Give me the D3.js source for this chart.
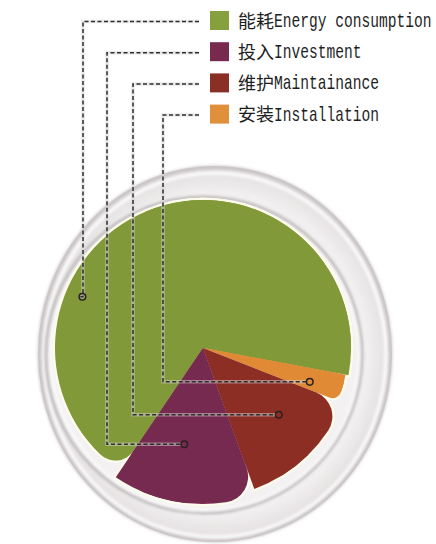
<!DOCTYPE html>
<html>
<head>
<meta charset="utf-8">
<script src="https://cdn.jsdelivr.net/npm/d3@7"></script>
<style>
  html, body { margin: 0; padding: 0; background: #ffffff; }
  svg { display: block; }
</style>
</head>
<body>
<svg id="chart" width="436" height="544"></svg>
<script>
// ---- data ----
const categoriesZh = ["能耗", "投入", "维护", "安装"];
const categoriesEn = ["Energy consumption", "Investment", "Maintainance", "Installation"];
const values = [68.5, 15, 13.5, 3];
const colors = ["#82993a", "#772a4f", "#8c2e24", "#e08a36"];
const swatchColors = ["#86a03e", "#772a4d", "#8a2f26", "#e0903a"];
// clockwise drawing order of slices (indices into the arrays above)
const pieOrder = [0, 3, 2, 1];

// ---- layout (not data) ----
const cx = 203, cy = 348;
const sliceRadius = [148, 156, 150, 145];
const cornerR = [22, 26, 26, 9];
const roundSide = ["start", "start", "start", "end"];
const anchorDeg = [-67, 191, 131.4, 107.6];
const anchorRad = [131, 98, 101, 112];
const elbowX = [83, 107, 133, 163];

const svg = d3.select("#chart");
const defs = svg.append("defs");

const blur = defs.append("filter").attr("id", "soft").attr("x", "-10%").attr("y", "-10%").attr("width", "120%").attr("height", "120%");
blur.append("feGaussianBlur").attr("stdDeviation", 1.6);

const rg = defs.append("radialGradient").attr("id", "plate")
  .attr("cx", "50%").attr("cy", "50%").attr("r", "50%");
rg.append("stop").attr("offset", "0%").attr("stop-color", "#f6f4f4");
rg.append("stop").attr("offset", "86%").attr("stop-color", "#f1efef");
rg.append("stop").attr("offset", "96%").attr("stop-color", "#e6e2e3");
rg.append("stop").attr("offset", "100%").attr("stop-color", "#d3cecf");

// ---- plate ----
svg.append("ellipse").attr("cx", 215).attr("cy", 354).attr("rx", 177).attr("ry", 188)
  .attr("fill", "url(#plate)");
svg.append("ellipse").attr("cx", 215).attr("cy", 354).attr("rx", 176).attr("ry", 187)
  .attr("fill", "none").attr("stroke", "#c4bfc0").attr("stroke-width", 2.5).attr("filter", "url(#soft)");
svg.append("ellipse").attr("cx", 215).attr("cy", 355).attr("rx", 171).attr("ry", 182)
  .attr("fill", "none").attr("stroke", "#ffffff").attr("stroke-width", 3).attr("filter", "url(#soft)");

svg.append("circle").attr("cx", 204).attr("cy", 355).attr("r", 158)
  .attr("fill", "#f3f1f1");
svg.append("circle").attr("cx", 204).attr("cy", 355).attr("r", 158)
  .attr("fill", "none").attr("stroke", "#b4afb0").attr("stroke-width", 2.5).attr("filter", "url(#soft)");
svg.append("circle").attr("cx", 205).attr("cy", 356).attr("r", 154)
  .attr("fill", "none").attr("stroke", "#ffffff").attr("stroke-width", 2).attr("filter", "url(#soft)");

// ---- pie ----
const ordered = pieOrder.map(i => ({ i, v: values[i] }));
const pie = d3.pie().value(d => d.v).sort(null)
  .startAngle(-146 * Math.PI / 180)
  .endAngle(214 * Math.PI / 180);
const arcsData = pie(ordered);

const g = svg.append("g").attr("transform", `translate(${cx},${cy})`);

function pieces(a) {
  const i = a.data.i;
  const r = sliceRadius[i];
  const rounded = d3.arc().innerRadius(0).outerRadius(r).cornerRadius(cornerR[i]);
  const sharp = d3.arc().innerRadius(0).outerRadius(r);
  const mid = (a.startAngle + a.endAngle) / 2;
  const half = roundSide[i] === "start"
    ? { startAngle: mid, endAngle: a.endAngle }
    : { startAngle: a.startAngle, endAngle: mid };
  return [rounded({ startAngle: a.startAngle, endAngle: a.endAngle }), sharp(half)];
}

// cream outline underlay
const underLayer = g.append("g");
arcsData.forEach(a => {
  pieces(a).forEach(p => {
    underLayer.append("path").attr("d", p).attr("fill", "#fdfbec")
      .attr("stroke", "#fdfbec").attr("stroke-width", 4.5).attr("stroke-linejoin", "round");
  });
});
const fillLayer = g.append("g");
arcsData.forEach(a => {
  pieces(a).forEach(p => {
    fillLayer.append("path").attr("d", p).attr("fill", colors[a.data.i]);
  });
});

// ---- legend ----
const rowY = i => 20.5 + i * 31.2;
const swX = 210, sw = 19;
const legend = svg.append("g");
categoriesEn.forEach((en, i) => {
  legend.append("rect").attr("x", swX).attr("y", rowY(i) - sw / 2).attr("width", sw).attr("height", sw)
    .attr("fill", swatchColors[i]);
  legend.append("text").attr("x", 238).attr("y", rowY(i) + 7).attr("fill", "#1e1e1e")
    .attr("font-family", "'Noto Sans CJK SC', sans-serif").attr("font-size", 18)
    .text(categoriesZh[i]);
  legend.append("text")
    .attr("transform", `translate(274,${rowY(i) + 6.5}) scale(0.73,1)`)
    .attr("fill", "#1e1e1e")
    .attr("font-family", "'Liberation Mono', monospace").attr("font-size", 20)
    .text(en);
});

// ---- leader lines ----
const leaders = svg.append("g");
categoriesEn.forEach((en, i) => {
  const ang = anchorDeg[i] * Math.PI / 180;
  const mx = cx + anchorRad[i] * Math.sin(ang);
  const my = cy - anchorRad[i] * Math.cos(ang);
  const p = d3.path();
  p.moveTo(swX - 11, rowY(i) + 1);
  p.lineTo(elbowX[i], rowY(i) + 1);
  p.lineTo(elbowX[i], my);
  p.lineTo(mx - 3.5, my);
  leaders.append("path").attr("d", p.toString()).attr("fill", "none")
    .attr("stroke", "#d8d6d6").attr("stroke-width", 3.5).attr("opacity", 0.5);
  leaders.append("path").attr("d", p.toString()).attr("fill", "none")
    .attr("stroke", "#2e2e2e").attr("stroke-width", 1.5).attr("stroke-dasharray", "4,2.5");
  leaders.append("circle").attr("cx", mx).attr("cy", my).attr("r", 3.3)
    .attr("fill", "none").attr("stroke", "#2a2020").attr("stroke-width", 1.5);
});
</script>
</body>
</html>
